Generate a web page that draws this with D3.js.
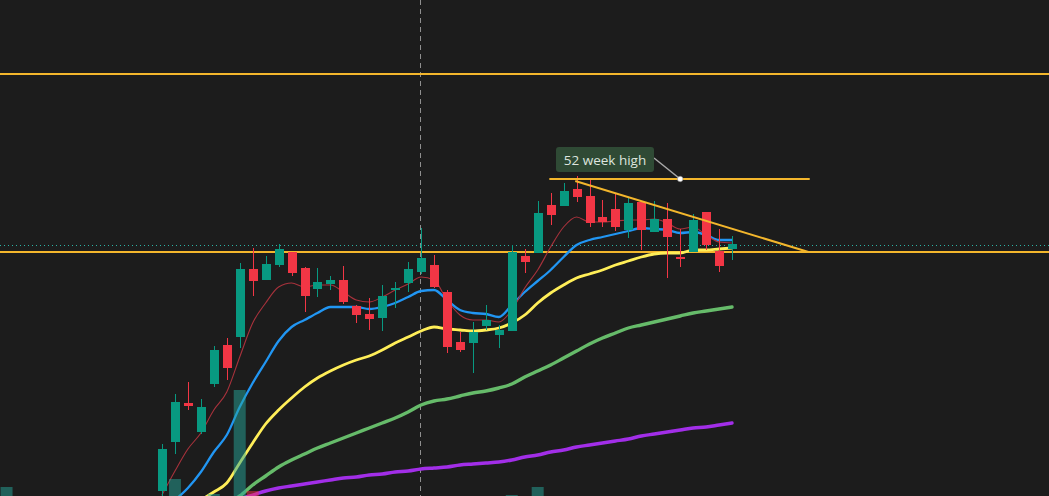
<!DOCTYPE html>
<html>
<head>
<meta charset="utf-8">
<script src="https://cdn.jsdelivr.net/npm/d3@7"></script>
<style>
html,body{margin:0;padding:0;background:#1c1c1c;overflow:hidden;}
svg{display:block;}
</style>
</head>
<body>
<svg id="chart" width="1049" height="496"></svg>
<script>
// ---------- DATA ----------
const opens  = [10.9,15.8,19.7,16.8,21.6,25.5,26.3,33.1,32.0,33.5,34.8,33.2,31.1,31.6,32.0,29.4,28.6,28.2,31.1,31.7,32.8,33.5,30.8,25.8,25.7,27.4,26.5,26.9,34.4,34.7,39.5,39.4,41.1,40.4,38.3,39.1,37.0,39.8,36.8,38.1,34.3,34.8,38.8,34.9,35.1];
const highs  = [15.6,20.6,21.8,20.1,25.4,26.2,33.7,35.2,34.4,35.6,34.8,33.3,33.2,32.4,33.4,29.5,30.2,31.5,31.8,33.8,37.2,34.5,31.0,26.8,27.8,29.5,27.5,35.5,35.1,39.9,40.7,41.7,42.4,42.1,40.0,40.6,40.3,39.8,39.9,39.7,37.1,38.6,38.8,37.1,36.4];
const lows   = [10.0,14.6,19.0,16.6,21.3,22.0,25.2,30.4,32.0,33.3,32.4,28.8,30.3,31.0,29.6,27.7,27.0,26.9,29.2,30.8,32.6,31.2,24.7,24.8,22.7,27.0,25.2,26.9,32.7,34.7,37.5,39.4,39.8,37.3,37.3,36.9,36.2,35.0,36.8,32.2,33.3,34.8,35.0,32.8,34.0];
const closes = [15.1,19.8,19.4,19.3,25.0,23.2,33.1,31.9,33.6,35.1,32.7,30.4,31.8,32.0,29.8,28.5,28.1,30.4,31.2,33.1,34.2,31.3,25.3,25.0,26.8,28.0,27.0,34.8,33.8,38.7,38.5,40.9,40.3,37.7,37.8,37.3,39.7,37.0,38.1,36.3,34.2,38.0,35.5,33.4,35.6];

// moving averages (start index + values)
const maFastStart = 0;
const maFast = [10.5,12.9,15.1,16.7,19.0,20.8,24.3,27.7,29.7,31.3,31.7,31.3,31.5,31.5,30.8,30.0,29.8,30.3,31.0,31.6,32.3,32.0,30.0,28.5,28.0,28.0,27.8,29.0,31.2,33.0,35.3,37.3,38.3,37.8,37.8,37.9,38.0,38.0,38.1,37.7,37.1,37.3,36.5,35.8,35.7];
const ma21Start = 1;
const ma21 = [10.0,11.2,12.8,14.8,16.5,19.3,21.7,23.8,25.9,27.3,28.0,28.7,29.3,29.3,29.3,29.1,29.3,29.7,30.3,30.9,31.0,30.0,29.0,28.7,28.6,28.3,29.5,30.8,31.9,33.0,34.3,35.5,36.0,36.3,36.6,36.9,37.2,37.1,37.0,36.7,36.8,36.5,36.0,36.0];
const ma50Start = 3;
const ma50 = [10.0,10.8,11.7,13.7,15.7,17.6,19.0,20.2,21.3,22.2,22.9,23.5,24.0,24.4,25.0,25.7,26.3,26.9,27.3,27.1,27.0,26.9,27.0,27.2,27.7,28.5,29.7,30.7,31.5,32.2,32.6,33.0,33.5,33.9,34.3,34.6,34.7,34.7,35.0,35.0,35.1,35.2];
const ma100Start = 5;
const ma100 = [9.7,10.4,11.5,12.4,13.3,14.0,14.6,15.2,15.7,16.2,16.7,17.2,17.7,18.2,18.8,19.5,19.9,20.1,20.4,20.7,20.9,21.2,21.6,22.3,22.9,23.5,24.2,24.9,25.6,26.2,26.7,27.2,27.5,27.8,28.1,28.4,28.7,28.9,29.1,29.3];
const ma200Start = 6;
const ma200 = [10.1,10.5,10.9,11.2,11.4,11.6,11.8,12.0,12.2,12.3,12.5,12.6,12.8,12.9,13.1,13.2,13.3,13.5,13.6,13.7,13.8,14.0,14.3,14.5,14.8,15.0,15.3,15.5,15.7,15.9,16.1,16.4,16.6,16.8,17.0,17.2,17.3,17.5,17.7];

// volume (only the bars tall enough to show)
const volIndex = [-12, 1, 4, 6, 7, 27, 29];
const volValues = [3.3, 4.1, 2.6, 13.0, 2.9, 2.5, 3.3];
const volUp = [true, true, true, true, false, true, true];

// drawn levels
const resistanceLevels = [52.6, 34.8];
const lastPrice = 35.5;
const highLabel = "52 week high";
const highLevel = 42.1;
const highFrom = 29.9, highTo = 50.0, highDot = 40.0;
const trendFrom = [31.9, 41.9], trendTo = [49.9, 34.8];
const crosshairIndex = 20;

// ---------- CHART ----------
const W = 1049, H = 496;
const svg = d3.select("#chart");
const x = d3.scaleLinear().domain([0, 44]).range([162, 732]);
const y = d3.scaleLinear().domain([10.4, 60]).range([H, 0]);
const yv = d3.scaleLinear().domain([0, 13]).range([520, 390]);

const UP = "#089981", DOWN = "#f23645", GOLD = "#f3b62c";

svg.append("rect").attr("width", W).attr("height", H).attr("fill", "#1c1c1c");
svg.append("defs").append("clipPath").attr("id", "clip")
  .append("rect").attr("width", W).attr("height", H);
const g = svg.append("g").attr("clip-path", "url(#clip)");

// crosshair vertical
g.append("line")
  .attr("x1", Math.round(x(crosshairIndex)) - 0.5).attr("x2", Math.round(x(crosshairIndex)) - 0.5)
  .attr("y1", 0).attr("y2", H)
  .attr("stroke", "#8f8f8f").attr("stroke-width", 1).attr("stroke-dasharray", "5,4");

// horizontal resistance lines
g.selectAll(".lvl").data(resistanceLevels).join("line")
  .attr("x1", 0).attr("x2", W)
  .attr("y1", d => y(d)).attr("y2", d => y(d))
  .attr("stroke", GOLD).attr("stroke-width", 2);

// last price dotted line
g.append("line").attr("x1", 0).attr("x2", W)
  .attr("y1", Math.round(y(lastPrice)) + 0.5).attr("y2", Math.round(y(lastPrice)) + 0.5)
  .attr("stroke", "#2bb3a5").attr("stroke-width", 1).attr("stroke-dasharray", "1,3");

// moving averages
function series(start, vals) { return vals.map((v, i) => [start + i, v]); }
const line = d3.line().x(d => x(d[0])).y(d => y(d[1])).curve(d3.curveMonotoneX);
const mas = [
  {d: series(ma200Start, ma200), c: "#a22ee8", w: 3.4},
  {d: series(ma100Start, ma100), c: "#66bb6a", w: 3.4},
  {d: series(ma50Start, ma50), c: "#ffee58", w: 2.8},
  {d: series(ma21Start, ma21), c: "#2196f3", w: 2.3},
  {d: series(maFastStart, maFast), c: "#a8323c", w: 1.1}
];
g.selectAll(".ma").data(mas).join("path")
  .attr("d", m => line(m.d)).attr("fill", "none")
  .attr("stroke", m => m.c).attr("stroke-width", m => m.w)
  .attr("stroke-linejoin", "round").attr("stroke-linecap", "round");

// volume
g.selectAll(".vol").data(volIndex).join("rect")
  .attr("x", (d) => x(d) - 6).attr("width", 12)
  .attr("y", (d, i) => yv(volValues[i]))
  .attr("height", (d, i) => yv(0) - yv(volValues[i]))
  .attr("fill", (d, i) => volUp[i] ? "rgba(38,166,154,0.5)" : "rgba(242,54,69,0.5)");

// candles
const idx = d3.range(opens.length);
const cg = g.selectAll(".candle").data(idx).join("g");
cg.append("line")
  .attr("x1", i => Math.round(x(i)) + 0.5).attr("x2", i => Math.round(x(i)) + 0.5)
  .attr("y1", i => y(highs[i])).attr("y2", i => y(lows[i]))
  .attr("stroke", i => closes[i] >= opens[i] ? UP : DOWN).attr("stroke-width", 1);
cg.append("rect")
  .attr("x", i => Math.round(x(i)) - 4).attr("width", 9)
  .attr("y", i => y(Math.max(opens[i], closes[i])))
  .attr("height", i => Math.max(2, Math.abs(y(opens[i]) - y(closes[i]))))
  .attr("fill", i => closes[i] >= opens[i] ? UP : DOWN);

// 52 week high line and trend line
g.append("line")
  .attr("x1", x(highFrom)).attr("x2", x(highTo))
  .attr("y1", y(highLevel)).attr("y2", y(highLevel))
  .attr("stroke", GOLD).attr("stroke-width", 2);
g.append("line")
  .attr("x1", x(trendFrom[0])).attr("y1", y(trendFrom[1]))
  .attr("x2", x(trendTo[0])).attr("y2", y(trendTo[1]))
  .attr("stroke", GOLD).attr("stroke-width", 2);

// label
const lx = 556, ly = 147, lw = 98, lh = 25;
g.append("line")
  .attr("x1", lx + lw).attr("y1", ly + 11)
  .attr("x2", x(highDot)).attr("y2", y(highLevel))
  .attr("stroke", "#a9a9a9").attr("stroke-width", 1.5);
g.append("circle").attr("cx", x(highDot)).attr("cy", y(highLevel)).attr("r", 2.8)
  .attr("fill", "#ffffff").attr("stroke", "#777").attr("stroke-width", 0.5);
g.append("rect").attr("x", lx).attr("y", ly).attr("width", lw).attr("height", lh)
  .attr("rx", 3).attr("fill", "#2f4a35");
g.append("text").attr("x", lx + lw / 2).attr("y", ly + 17.5)
  .attr("text-anchor", "middle").attr("fill", "#dde5df")
  .attr("font-family", "'Open Sans', 'Noto Sans', sans-serif").attr("font-size", 13.5)
  .text(highLabel);
</script>
</body>
</html>
